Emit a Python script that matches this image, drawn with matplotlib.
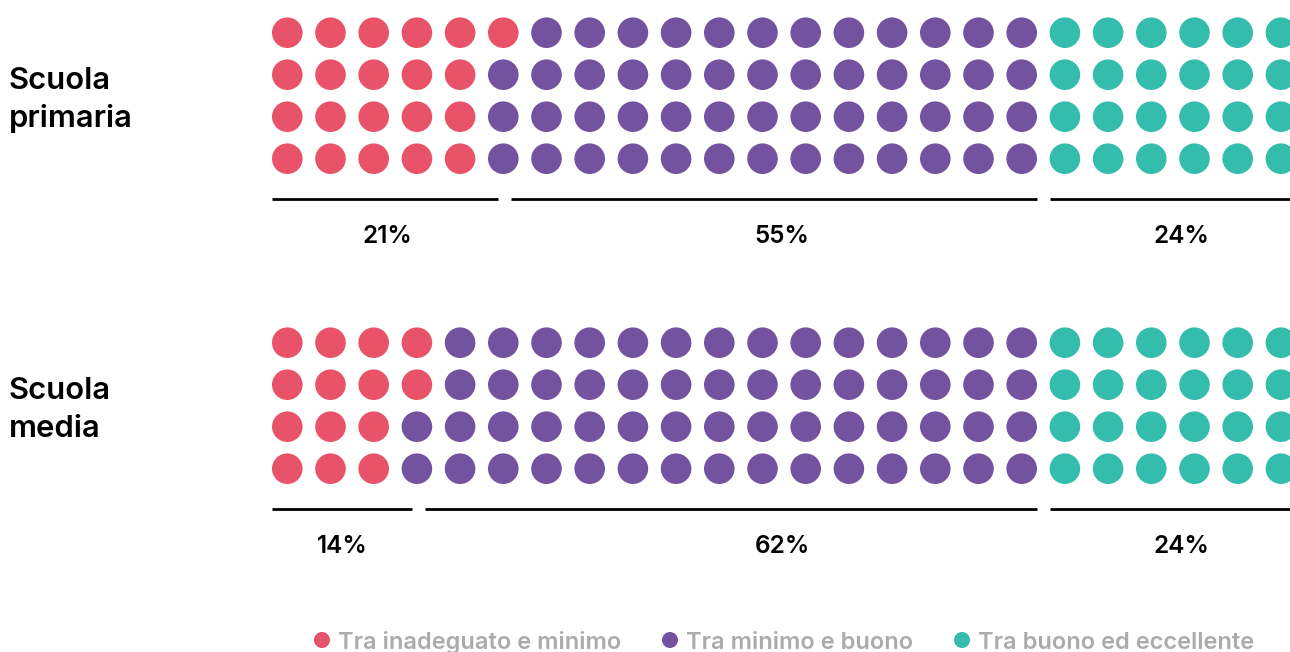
import matplotlib
matplotlib.use('Agg')
import matplotlib.pyplot as plt
from matplotlib.patches import Circle

# Data
school_levels = ['Scuola\nprimaria', 'Scuola\nmedia']
categories = ['Tra inadeguato e minimo', 'Tra minimo e buono', 'Tra buono ed eccellente']
colors = ['#E9536A', '#7352A0', '#34BCAC']
pct_labels = [[21, 55, 24], [14, 62, 24]]      # percentages printed under each segment
dot_counts = [[21, 51, 24], [14, 58, 24]]      # dots drawn per category

# Layout (pixel units, y grows downwards)
W, H = 1290, 652
N_ROWS = 4
X0, PITCH_X = 287.3, 43.2
PITCH_Y = 42.0
BLOCK_Y0 = [32.7, 342.7]
R = 15.3
LINE_Y_OFF = 166.0
LABEL_Y_OFF = 210.5
LABEL_X = [[387, 782, 1181], [342, 782, 1181]]
FONT = 'Inter'

fig = plt.figure(figsize=(W / 100, H / 100), dpi=100)
ax = fig.add_axes([0, 0, 1, 1])
ax.set_xlim(0, W)
ax.set_ylim(H, 0)
ax.set_aspect('equal')
ax.axis('off')


def cell_xy(i, y0):
    col, row = divmod(i, N_ROWS)
    return X0 + col * PITCH_X, y0 + row * PITCH_Y


for b, (name, counts) in enumerate(zip(school_levels, dot_counts)):
    y0 = BLOCK_Y0[b]

    # waffle dots, filled column by column from the top
    idx = 0
    for c, n in enumerate(counts):
        for _ in range(n):
            x, y = cell_xy(idx, y0)
            ax.add_patch(Circle((x, y), R, color=colors[c], lw=0))
            idx += 1

    # bracket lines under each category + percentage label
    start = 0
    for c, n in enumerate(counts):
        end = start + n - 1
        sc, sr = divmod(start, N_ROWS)
        ec, er = divmod(end, N_ROWS)
        xs = X0 + sc * PITCH_X + (-R if sr == 0 else 8)
        xe = X0 + ec * PITCH_X + (R if er == N_ROWS - 1 else -5)
        ly = y0 + LINE_Y_OFF
        ax.plot([xs, xe], [ly, ly], color='#000000', lw=2.0, solid_capstyle='butt')
        ax.text(LABEL_X[b][c], y0 + LABEL_Y_OFF, f'{pct_labels[b][c]}%',
                ha='center', va='baseline', fontsize=17.5, family=FONT,
                weight='semibold', color='#000000')
        start = end + 1

    # row title
    for k, line in enumerate(name.split('\n')):
        ax.text(9, y0 + 56.5 + k * 38, line, ha='left', va='baseline',
                fontsize=22.3, family=FONT, weight='semibold', color='#000000')

# legend along the bottom
legend_x = [322, 670, 962]
for c, label in enumerate(categories):
    ax.add_patch(Circle((legend_x[c], 640), 8, color=colors[c], lw=0))
    ax.text(legend_x[c] + 16, 649, label, ha='left', va='baseline',
            fontsize=17.0, family=FONT, weight='semibold', color='#ABABAB')

plt.savefig('out.png', dpi=100)
